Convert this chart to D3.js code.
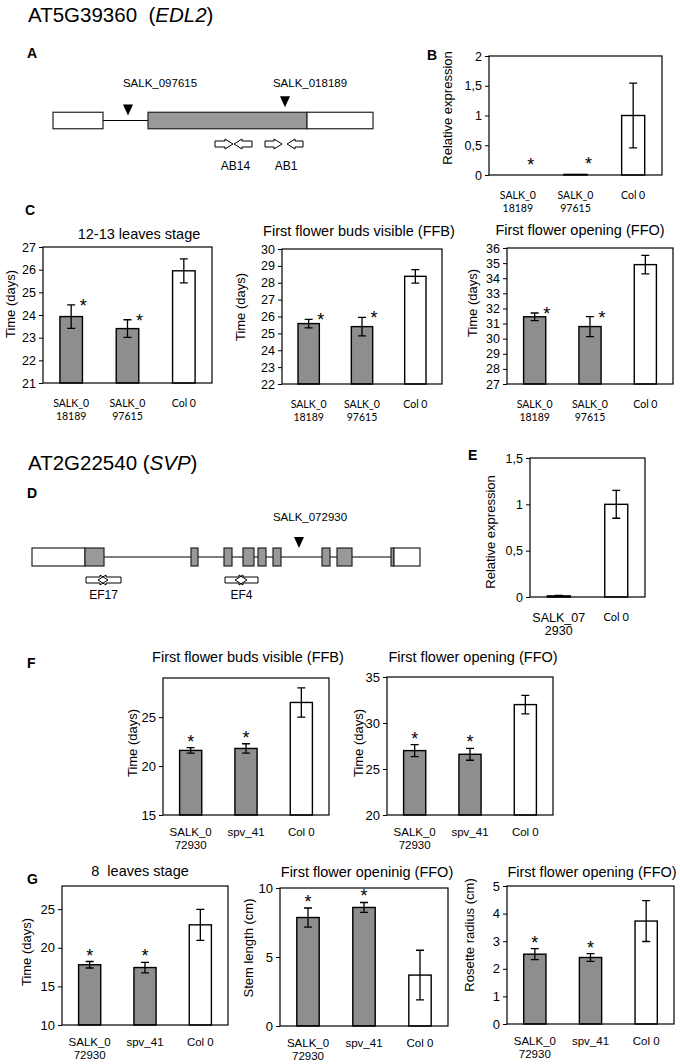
<!DOCTYPE html>
<html>
<head>
<meta charset="utf-8">
<script src="https://cdn.jsdelivr.net/npm/d3@7"></script>
<style>
  body { margin: 0; background: #fff; }
  text { font-family: "Liberation Sans", Arial, sans-serif; }
</style>
</head>
<body>
<svg id="fig" width="680" height="1064"></svg>
<script>
// ---- data ----
const edlCats = ["SALK_0\n18189", "SALK_0\n97615", "Col 0"];
const svpCats = ["SALK_0\n72930", "spv_41", "Col 0"];
const eCats = ["SALK_07\n2930", "Col 0"];

const bExpr = [0, 0.01, 1.0];
const bExprErr = [0, 0, 0.545];
const cLeaves = [23.93, 23.4, 25.95];
const cLeavesErr = [0.52, 0.39, 0.53];
const cFFB = [25.58, 25.4, 28.38];
const cFFBErr = [0.25, 0.55, 0.4];
const cFFO = [31.45, 30.8, 34.9];
const cFFOErr = [0.25, 0.66, 0.61];
const eExpr = [0.012, 1.0];
const eExprErr = [0.004, 0.15];
const fFFB = [21.6, 21.8, 26.5];
const fFFBErr = [0.28, 0.48, 1.5];
const fFFO = [27.0, 26.6, 32.0];
const fFFOErr = [0.65, 0.65, 1.0];
const gLeaves = [17.8, 17.44, 22.97];
const gLeavesErr = [0.42, 0.68, 2.0];
const gStem = [7.86, 8.59, 3.69];
const gStemErr = [0.69, 0.36, 1.8];
const gRosette = [2.53, 2.41, 3.73];
const gRosetteErr = [0.2, 0.14, 0.74];
const sig3 = [true, true, false];
const sig2 = [false, false];

// gene models, schematic units
const edlParts = [
  {type: "utr", start: 0, end: 50},
  {type: "cds", start: 95, end: 254},
  {type: "utr", start: 254, end: 320}
];
const edlIntron = [50, 95];
const edlInserts = [{name: "SALK_097615", pos: 75}, {name: "SALK_018189", pos: 232}];
const edlPrimers = [
  {name: "AB14", fw: [162, 180], rv: [199, 181]},
  {name: "AB1", fw: [212, 229], rv: [250, 234]}
];

const svpParts = [
  {type: "utr", start: 0, end: 53}, {type: "cds", start: 53, end: 72},
  {type: "cds", start: 159, end: 166}, {type: "cds", start: 192, end: 200},
  {type: "cds", start: 211, end: 222}, {type: "cds", start: 226, end: 234},
  {type: "cds", start: 241, end: 249}, {type: "cds", start: 290, end: 298},
  {type: "cds", start: 305, end: 320}, {type: "cds", start: 359, end: 362},
  {type: "utr", start: 362, end: 388}
];
const svpIntron = [72, 359];
const svpInserts = [{name: "SALK_072930", pos: 267}];
const svpPrimers = [
  {name: "EF17", fw: [54, 76], rv: [89, 66]},
  {name: "EF4", fw: [193, 215], rv: [226, 203]}
];

const svg = d3.select("#fig");
svg.append("rect").attr("width", 680).attr("height", 1064).attr("fill", "#fff");

const grey = "#8e8e8e";
const comma = v => String(v).replace(".", ",");

// headings and panel letters
function heading(x, y, pre, ital) {
  const t = svg.append("text").attr("x", x).attr("y", y)
    .attr("font-size", 20.5).style("white-space", "pre");
  t.append("tspan").text(pre);
  t.append("tspan").attr("font-style", "italic").text(ital);
  t.append("tspan").text(")");
}
heading(28, 22, "AT5G39360  (", "EDL2");
heading(28, 470, "AT2G22540 (", "SVP");

const letters = [["A", 27, 58], ["B", 427, 60], ["C", 25, 215], ["D", 27, 498],
                 ["E", 468, 460], ["F", 27, 668], ["G", 27, 884]];
svg.selectAll("text.letter").data(letters).join("text")
  .attr("class", "letter")
  .attr("x", d => d[1]).attr("y", d => d[2])
  .attr("font-size", 14).attr("font-weight", "bold")
  .text(d => d[0]);

// ---- gene models ----
function arrowPath(xa, xb, y) {
  const dir = xb > xa ? 1 : -1, hl = 8, bh = 3, hh = 5;
  const xh = xb - dir * hl;
  return `M${xa},${y - bh}L${xh},${y - bh}L${xh},${y - hh}L${xb},${y}L${xh},${y + hh}L${xh},${y + bh}L${xa},${y + bh}Z`;
}

function geneModel(cfg) {
  const x = d3.scaleLinear().domain(cfg.domain).range(cfg.range);
  const g = svg.append("g");
  const h = cfg.h, ym = cfg.yMid;

  g.append("line")
    .attr("x1", x(cfg.intron[0])).attr("x2", x(cfg.intron[1]))
    .attr("y1", ym).attr("y2", ym)
    .attr("stroke", "#000").attr("stroke-width", 1.2);

  g.selectAll("rect.part").data(cfg.parts).join("rect")
    .attr("x", d => x(d.start)).attr("width", d => x(d.end) - x(d.start))
    .attr("y", ym - h / 2).attr("height", h)
    .attr("fill", d => d.type === "cds" ? "#999" : "#fff")
    .attr("stroke", "#222").attr("stroke-width", 1.2);

  const inExon = p => cfg.parts.some(d => p >= d.start && p <= d.end);
  cfg.inserts.forEach((ins, i) => {
    const cx = x(ins.pos);
    const tip = inExon(ins.pos) ? ym - h / 2 - 5 : ym - cfg.tipGap;
    g.append("path")
      .attr("d", `M${cx - 5},${tip - 11}L${cx + 5},${tip - 11}L${cx},${tip}Z`)
      .attr("fill", "#000");
    g.append("text")
      .attr("x", cx + cfg.labelDx[i]).attr("y", cfg.labelY)
      .attr("text-anchor", "middle").attr("font-size", 11.5)
      .text(ins.name);
  });

  cfg.primers.forEach(p => {
    [p.fw, p.rv].forEach(a => {
      g.append("path")
        .attr("d", arrowPath(x(a[0]), x(a[1]), cfg.primerY))
        .attr("fill", cfg.primerFill).attr("stroke", "#000").attr("stroke-width", 1);
    });
    const mid = (x(d3.min([...p.fw, ...p.rv])) + x(d3.max([...p.fw, ...p.rv]))) / 2;
    g.append("text")
      .attr("x", mid + cfg.primerLabelDx).attr("y", cfg.primerLabelY)
      .attr("text-anchor", "middle").attr("font-size", 12)
      .text(p.name);
  });
}

geneModel({
  domain: [0, 320], range: [53, 373], yMid: 120.5, h: 16.5,
  parts: edlParts, intron: edlIntron, inserts: edlInserts, primers: edlPrimers,
  tipGap: 5, labelDx: [32, 25], labelY: 87,
  primerY: 144, primerLabelY: 170, primerLabelDx: 2, primerFill: "#fff"
});

geneModel({
  domain: [0, 388], range: [32, 420], yMid: 557, h: 18,
  parts: svpParts, intron: svpIntron, inserts: svpInserts, primers: svpPrimers,
  tipGap: 9, labelDx: [11], labelY: 521,
  primerY: 580, primerLabelY: 599, primerLabelDx: 0, primerFill: "none"
});

// ---- bar panels ----
function barPanel(cfg) {
  const g = svg.append("g");
  const x = d3.scaleBand().domain(cfg.cats).range([cfg.x0, cfg.x1]);
  const y = d3.scaleLinear().domain(cfg.domain).range([cfg.y1, cfg.y0]);
  const bw = x.bandwidth() * 0.4;
  const rows = cfg.cats.map((c, i) => ({cat: c, v: cfg.values[i], e: cfg.err[i], sig: cfg.sig[i]}));

  // y axis
  const ax = g.append("g").attr("transform", `translate(${cfg.x0},0)`)
    .call(d3.axisLeft(y).tickValues(cfg.ticks).tickSize(4).tickPadding(3)
      .tickFormat(cfg.comma ? comma : d3.format("d")));
  ax.select(".domain").remove();
  ax.attr("font-family", null).attr("font-size", cfg.tickSize || 12.5);
  ax.selectAll("line").attr("stroke", "#000");

  // bars
  g.selectAll("rect.bar").data(rows.filter(d => d.v > cfg.domain[0])).join("rect")
    .attr("class", "bar")
    .attr("x", d => x(d.cat) + x.bandwidth() / 2 - bw / 2)
    .attr("width", bw)
    .attr("y", d => y(d.v))
    .attr("height", d => y(cfg.domain[0]) - y(d.v))
    .attr("fill", d => d.cat === "Col 0" ? "#fff" : grey)
    .attr("stroke", "#000").attr("stroke-width", 1.4);

  // frame
  g.append("rect")
    .attr("x", cfg.x0).attr("y", cfg.y0)
    .attr("width", cfg.x1 - cfg.x0).attr("height", cfg.y1 - cfg.y0)
    .attr("fill", "none").attr("stroke", "#000").attr("stroke-width", 1.2);

  // error bars
  rows.filter(d => d.e > 0).forEach(d => {
    const cx = x(d.cat) + x.bandwidth() / 2;
    const path = `M${cx},${y(d.v + d.e)}V${y(d.v - d.e)}` +
      `M${cx - 4},${y(d.v + d.e)}H${cx + 4}M${cx - 4},${y(d.v - d.e)}H${cx + 4}`;
    g.append("path").attr("d", path).attr("stroke", "#000").attr("stroke-width", 1.3).attr("fill", "none");
  });

  // significance stars
  g.selectAll("text.star").data(rows.filter(d => d.sig)).join("text")
    .attr("class", "star")
    .attr("x", d => x(d.cat) + x.bandwidth() / 2 + cfg.starDx)
    .attr("y", d => y(d.v + d.e) + cfg.starDy + 10)
    .attr("text-anchor", "middle").attr("font-size", 18)
    .text("*");

  // category labels
  rows.forEach((d, i) => {
    const st = cfg.xStyle[i] || cfg.xStyle[0];
    const t = g.append("text")
      .attr("x", x(d.cat) + x.bandwidth() / 2).attr("y", cfg.y1 + st.off)
      .attr("text-anchor", "middle")
      .attr("font-size", st.size)
      .style("font-family", st.font);
    d.cat.split("\n").forEach((line, k) => {
      t.append("tspan").attr("x", x(d.cat) + x.bandwidth() / 2)
        .attr("dy", k === 0 ? 0 : st.lh).text(line);
    });
  });

  // axis title
  g.append("text")
    .attr("transform", `translate(${cfg.ylx},${cfg.yly}) rotate(-90)`)
    .attr("text-anchor", "middle").attr("dominant-baseline", "central")
    .attr("font-size", 13)
    .text(cfg.ylabel);

  if (cfg.title) {
    g.append("text").attr("x", cfg.tx).attr("y", cfg.ty)
      .attr("text-anchor", "middle").attr("font-size", 14.5)
      .style("white-space", "pre")
      .text(cfg.title);
  }
}

const calib = {font: "Lato, 'Open Sans', sans-serif", size: 10.5, off: 24, lh: 12.5};
const arialX = {font: "'Liberation Sans', Arial, sans-serif", size: 11.5, off: 21, lh: 13};
const starSide = {starDx: 12, starDy: -3};
const starTop = {starDx: 0, starDy: -10};

barPanel({cats: edlCats, values: bExpr, err: bExprErr, sig: sig3,
  x0: 489, x1: 662, y0: 56, y1: 175, domain: [0, 2], ticks: [0, 0.5, 1, 1.5, 2], comma: true,
  ylabel: "Relative expression", ylx: 447, yly: 108, xStyle: [calib], starDx: 13, starDy: -14});

barPanel({cats: edlCats, values: cLeaves, err: cLeavesErr, sig: sig3,
  x0: 43, x1: 212, y0: 247, y1: 383, domain: [21, 27], ticks: d3.range(21, 28),
  ylabel: "Time (days)", ylx: 10, yly: 304, xStyle: [calib],
  title: "12-13 leaves stage", tx: 139, ty: 239, ...starSide});

barPanel({cats: edlCats, values: cFFB, err: cFFBErr, sig: sig3,
  x0: 282, x1: 442, y0: 249, y1: 384, domain: [22, 30], ticks: d3.range(22, 31),
  ylabel: "Time (days)", ylx: 240, yly: 307, xStyle: [calib],
  title: "First flower buds visible (FFB)", tx: 359, ty: 236, ...starSide});

barPanel({cats: edlCats, values: cFFO, err: cFFOErr, sig: sig3,
  x0: 507, x1: 673, y0: 248, y1: 384, domain: [27, 36], ticks: d3.range(27, 37),
  ylabel: "Time (days)", ylx: 472, yly: 303, xStyle: [calib],
  title: "First flower opening (FFO)", tx: 580, ty: 235, ...starSide});

barPanel({cats: eCats, values: eExpr, err: eExprErr, sig: sig2,
  x0: 530, x1: 645, y0: 458, y1: 597, domain: [0, 1.5], ticks: [0, 0.5, 1, 1.5], comma: true,
  ylabel: "Relative expression", ylx: 490, yly: 532,
  xStyle: [{font: "'Liberation Sans', Arial, sans-serif", size: 12.5, off: 25, lh: 13},
           {font: "Lato, 'Open Sans', sans-serif", size: 11, off: 24, lh: 12}],
  ...starTop});

barPanel({cats: svpCats, values: fFFB, err: fFFBErr, sig: sig3,
  x0: 163, x1: 329, y0: 678, y1: 815, domain: [15, 29], ticks: [15, 20, 25], tickSize: 13,
  ylabel: "Time (days)", ylx: 132, yly: 743, xStyle: [arialX],
  title: "First flower buds visible (FFB)", tx: 248, ty: 662, ...starTop});

barPanel({cats: svpCats, values: fFFO, err: fFFOErr, sig: sig3,
  x0: 387, x1: 553, y0: 677, y1: 815, domain: [20, 35], ticks: [20, 25, 30, 35], tickSize: 13,
  ylabel: "Time (days)", ylx: 358, yly: 743, xStyle: [arialX],
  title: "First flower opening (FFO)", tx: 473, ty: 662, ...starTop});

barPanel({cats: svpCats, values: gLeaves, err: gLeavesErr, sig: sig3,
  x0: 62, x1: 228, y0: 886, y1: 1025, domain: [10, 28], ticks: [10, 15, 20, 25], tickSize: 13,
  ylabel: "Time (days)", ylx: 26, yly: 952, xStyle: [arialX],
  title: "8  leaves stage", tx: 140, ty: 876, ...starTop});

barPanel({cats: svpCats, values: gStem, err: gStemErr, sig: sig3,
  x0: 280, x1: 448, y0: 888, y1: 1026, domain: [0, 10], ticks: [0, 5, 10], tickSize: 13,
  ylabel: "Stem length (cm)", ylx: 248, yly: 948, xStyle: [arialX],
  title: "First flower openinig (FFO)", tx: 367, ty: 877, ...starTop});

barPanel({cats: svpCats, values: gRosette, err: gRosetteErr, sig: sig3,
  x0: 507, x1: 674, y0: 886, y1: 1024, domain: [0, 5], ticks: d3.range(0, 6), tickSize: 13,
  ylabel: "Rosette radius (cm)", ylx: 469, yly: 935, xStyle: [arialX],
  title: "First flower opening (FFO)", tx: 592, ty: 877, ...starTop});
</script>
</body>
</html>
